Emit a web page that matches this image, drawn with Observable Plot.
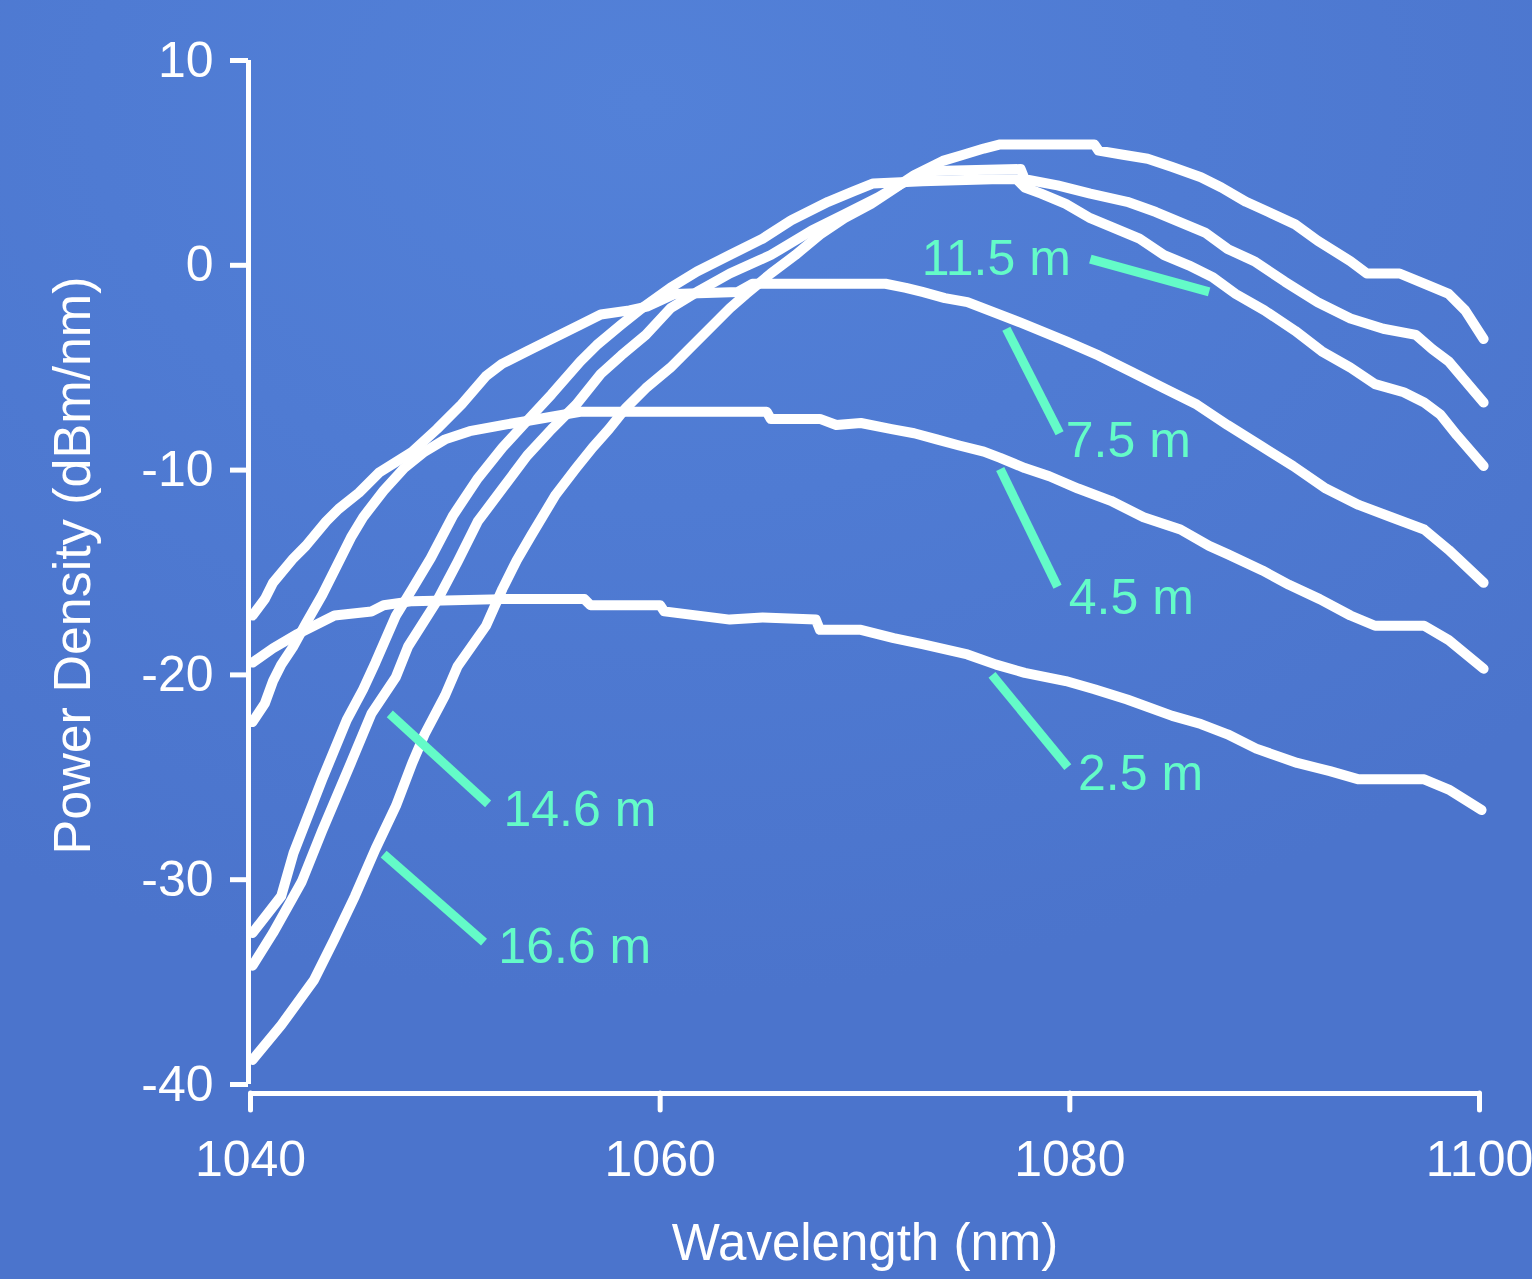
<!DOCTYPE html>
<html>
<head>
<meta charset="utf-8">
<script src="https://cdn.jsdelivr.net/npm/d3@7"></script>
<script src="https://cdn.jsdelivr.net/npm/@observablehq/plot@0.6"></script>
<style>
  html, body { margin: 0; padding: 0; overflow: hidden; }
  body {
    width: 1532px; height: 1279px;
    background: radial-gradient(ellipse 80% 70% at 42% 8%, #5381d8 0%, #4f7bd3 45%, #4b74cc 100%);
    font-family: "Liberation Sans", Arial, sans-serif;
  }
  #chart svg { display: block; }
</style>
</head>
<body>
<div id="chart"></div>
<script>
// ---- Data (wavelength in nm, power density in dBm/nm) ----
const seriesNames = ["2.5 m", "4.5 m", "7.5 m", "11.5 m", "14.6 m", "16.6 m"];

const wl_2_5 = [1040.1,1041.1,1042.3,1044.1,1045.9,1046.5,1047.9,1052.3,1056.3,1056.6,1060.0,1060.2,1063.4,1065.0,1067.6,1067.8,1069.8,1071.4,1072.8,1075.0,1076.4,1077.8,1079.8,1081.2,1082.8,1085.0,1086.4,1087.7,1089.1,1091.1,1092.7,1094.1,1097.3,1098.5,1100.1];
const pd_2_5 = [-19.4,-18.7,-18.0,-17.1,-16.9,-16.6,-16.4,-16.3,-16.3,-16.6,-16.6,-16.9,-17.3,-17.2,-17.3,-17.8,-17.8,-18.2,-18.5,-19.0,-19.5,-19.9,-20.3,-20.7,-21.2,-22.0,-22.4,-22.9,-23.6,-24.3,-24.7,-25.1,-25.1,-25.6,-26.6];

const wl_4_5 = [1040.1,1040.7,1041.1,1041.5,1042.1,1042.7,1043.5,1044.1,1044.9,1045.5,1046.5,1047.5,1048.5,1049.5,1050.7,1052.3,1053.5,1056.1,1065.2,1065.4,1067.8,1068.6,1069.8,1071.3,1072.4,1073.5,1074.6,1075.8,1076.6,1077.8,1079.0,1080.4,1082.0,1083.6,1085.4,1086.8,1087.7,1089.4,1090.7,1092.2,1093.7,1094.9,1097.3,1098.5,1100.2];
const pd_4_5 = [-22.3,-21.4,-20.3,-19.5,-18.6,-17.5,-16.1,-14.9,-13.3,-12.3,-11.0,-9.9,-9.1,-8.5,-8.1,-7.8,-7.6,-7.15,-7.15,-7.5,-7.5,-7.8,-7.7,-8.0,-8.2,-8.5,-8.8,-9.1,-9.4,-9.9,-10.3,-10.9,-11.5,-12.3,-12.9,-13.7,-14.1,-14.9,-15.6,-16.3,-17.1,-17.6,-17.6,-18.3,-19.7];

const wl_7_5 = [1040.1,1040.7,1041.1,1042.1,1042.7,1043.7,1044.3,1045.3,1046.3,1047.1,1047.9,1049.1,1050.3,1051.5,1052.3,1053.5,1054.7,1056.1,1057.1,1058.5,1059.4,1060.7,1063.8,1064.5,1071.0,1072.0,1072.8,1073.9,1075.0,1076.3,1077.6,1079.8,1081.4,1083.0,1084.6,1086.2,1087.7,1089.3,1090.9,1092.5,1094.1,1095.7,1097.3,1098.5,1100.2];
const pd_7_5 = [-17.1,-16.3,-15.5,-14.3,-13.7,-12.5,-11.9,-11.1,-10.1,-9.6,-9.1,-8.0,-6.8,-5.4,-4.8,-4.2,-3.6,-2.9,-2.4,-2.2,-2.0,-1.4,-1.3,-0.9,-0.9,-1.1,-1.3,-1.6,-1.8,-2.3,-2.8,-3.7,-4.4,-5.2,-6.0,-6.8,-7.8,-8.8,-9.8,-10.9,-11.7,-12.3,-12.9,-13.9,-15.5];

const wl_11_5 = [1040.1,1041.5,1042.1,1043.5,1044.7,1045.5,1046.1,1047.1,1047.9,1048.8,1049.9,1051.1,1052.3,1053.5,1054.7,1056.1,1056.9,1058.1,1059.1,1060.5,1061.8,1063.4,1065.0,1066.4,1068.2,1069.4,1070.4,1072.8,1076.2,1077.4,1077.8,1078.6,1079.8,1081.0,1082.2,1083.4,1084.6,1085.8,1087.0,1088.1,1089.5,1091.0,1092.3,1093.7,1094.9,1096.3,1097.3,1098.1,1098.9,1100.2];
const pd_11_5 = [-32.6,-30.8,-28.7,-25.1,-22.2,-20.7,-19.4,-17.1,-15.8,-14.3,-12.2,-10.4,-8.9,-7.6,-6.3,-4.7,-3.9,-2.9,-2.1,-1.1,-0.3,0.5,1.3,2.2,3.1,3.6,4.0,4.1,4.2,4.2,3.8,3.5,3.0,2.3,1.8,1.3,0.5,0.0,-0.6,-1.4,-2.2,-3.2,-4.2,-5.0,-5.8,-6.2,-6.7,-7.3,-8.3,-9.8];

const wl_14_6 = [1040.1,1041.1,1042.5,1043.5,1044.9,1045.9,1047.1,1047.7,1049.1,1050.1,1051.1,1052.3,1053.5,1054.7,1055.9,1057.1,1058.1,1059.3,1060.5,1061.8,1063.4,1065.4,1067.4,1069.0,1070.6,1071.8,1073.4,1077.6,1077.8,1079.4,1081.0,1082.8,1084.2,1085.4,1086.6,1087.7,1089.0,1090.5,1092.1,1093.7,1095.3,1096.9,1097.7,1098.5,1100.2];
const pd_14_6 = [-34.2,-32.6,-30.1,-27.6,-24.3,-21.9,-20.1,-18.6,-16.4,-14.5,-12.5,-10.9,-9.3,-8.0,-6.8,-5.3,-4.4,-3.4,-2.1,-1.3,-0.4,0.5,1.7,2.5,3.3,4.0,4.6,4.7,4.2,3.9,3.5,3.1,2.6,2.1,1.6,0.8,0.2,-0.8,-1.8,-2.6,-3.1,-3.4,-4.1,-4.7,-6.7];

const wl_16_6 = [1040.1,1041.5,1043.1,1044.1,1045.1,1046.1,1047.1,1047.9,1048.5,1049.5,1050.1,1051.5,1052.3,1053.0,1053.7,1054.3,1054.9,1055.9,1056.7,1057.5,1058.3,1059.3,1060.5,1061.4,1062.4,1063.4,1064.2,1065.4,1066.6,1067.8,1069.0,1070.3,1071.5,1072.4,1073.8,1074.8,1075.8,1076.6,1081.2,1081.4,1082.6,1083.8,1085.0,1086.4,1087.4,1088.6,1089.7,1091.0,1092.1,1093.7,1094.5,1096.1,1097.3,1098.5,1099.3,1100.2];
const pd_16_6 = [-38.8,-37.1,-34.9,-32.9,-30.8,-28.5,-26.4,-24.3,-22.9,-21.0,-19.6,-17.6,-15.8,-14.4,-13.2,-12.2,-11.2,-9.9,-8.9,-8.0,-7.0,-6.0,-5.0,-4.1,-3.1,-2.1,-1.4,-0.4,0.5,1.5,2.3,3.0,3.8,4.4,5.1,5.4,5.7,5.9,5.9,5.6,5.4,5.2,4.8,4.3,3.8,3.1,2.6,2.0,1.2,0.2,-0.4,-0.4,-0.9,-1.4,-2.2,-3.6];

// Axis ticks
const xTicks = [1040, 1060, 1080, 1100];
const yTicks = [-40, -30, -20, -10, 0, 10];

// Callout labels: text, text anchor point, pointer start/end (data units)
const labelText   = ["11.5 m", "7.5 m", "4.5 m", "2.5 m", "14.6 m", "16.6 m"];
const labelX      = [1080.05, 1079.8, 1079.95, 1080.4, 1052.35, 1052.1];
const labelY      = [0.3, -8.6, -16.25, -24.85, -26.6, -33.3];
const labelAnchor = ["end", "start", "start", "start", "start", "start"];
const ptrX1 = [1081.0, 1076.9, 1076.6, 1076.2, 1046.8, 1046.5];
const ptrY1 = [0.3, -3.1, -9.95, -20.0, -21.9, -28.75];
const ptrX2 = [1086.8, 1079.5, 1079.4, 1079.9, 1051.6, 1051.4];
const ptrY2 = [-1.3, -8.2, -15.7, -24.5, -26.3, -33.05];

// ---- Build tables ----
const seriesData = [
  [wl_2_5, pd_2_5], [wl_4_5, pd_4_5], [wl_7_5, pd_7_5],
  [wl_11_5, pd_11_5], [wl_14_6, pd_14_6], [wl_16_6, pd_16_6]
];
const rows = seriesData.flatMap(([w, p], i) => w.map((x, j) => ({series: seriesNames[i], wl: x, pd: p[j]})));
const labels = labelText.map((t, i) => ({t, x: labelX[i], y: labelY[i], a: labelAnchor[i]}));
const pointers = labelText.map((t, i) => ({x1: ptrX1[i], y1: ptrY1[i], x2: ptrX2[i], y2: ptrY2[i]}));

const accent = "#64fbc8";
const font = "'Liberation Sans', Arial, sans-serif";

const chart = Plot.plot({
  width: 1532,
  height: 1279,
  marginLeft: 250,
  marginRight: 53,
  marginTop: 60,
  marginBottom: 195,
  style: {background: "transparent", color: "white", fontFamily: font, overflow: "visible"},
  x: {domain: [1040, 1100]},
  y: {domain: [-40, 10]},
  marks: [
    // y axis line and ticks
    Plot.ruleX([1040], {y1: -40, y2: 10, stroke: "white", strokeWidth: 5, dx: -2}),
    Plot.axisY({ticks: yTicks, tickSize: 18, tickPadding: 17, tickFormat: d => String(d),
      fontSize: 50, color: "white", strokeWidth: 5, dx: -2, label: null}),
    // x axis line and ticks (offset below)
    Plot.ruleY([-40], {x1: 1040, x2: 1100, stroke: "white", strokeWidth: 5, dy: 9}),
    Plot.axisX({ticks: xTicks, tickSize: 17, tickPadding: 30, tickFormat: d => String(d),
      fontSize: 50, color: "white", strokeWidth: 5, strokeLinecap: "round", dy: 9, label: null}),
    // axis titles
    Plot.text(["Wavelength (nm)"], {frameAnchor: "bottom", dy: 159, fontSize: 51, fill: "white", lineAnchor: "middle", textAnchor: "middle"}),
    Plot.text(["Power Density (dBm/nm)"], {frameAnchor: "left", dx: -177, dy: -7, rotate: -90, fontSize: 52, fill: "white", lineAnchor: "middle", textAnchor: "middle"}),
    // spectra
    Plot.line(rows, {x: "wl", y: "pd", z: "series", stroke: "white", strokeWidth: 10,
      strokeLinejoin: "round", strokeLinecap: "round"}),
    // callouts
    Plot.link(pointers, {x1: "x1", y1: "y1", x2: "x2", y2: "y2", stroke: accent, strokeWidth: 9, strokeLinecap: "butt"}),
    Plot.text(labels.filter(d => d.a === "end"), {x: "x", y: "y", text: "t", textAnchor: "end", fill: accent, fontSize: 50, lineAnchor: "middle"}),
    Plot.text(labels.filter(d => d.a === "start"), {x: "x", y: "y", text: "t", textAnchor: "start", fill: accent, fontSize: 50, lineAnchor: "middle"})
  ]
});
document.getElementById("chart").appendChild(chart);
</script>
</body>
</html>
